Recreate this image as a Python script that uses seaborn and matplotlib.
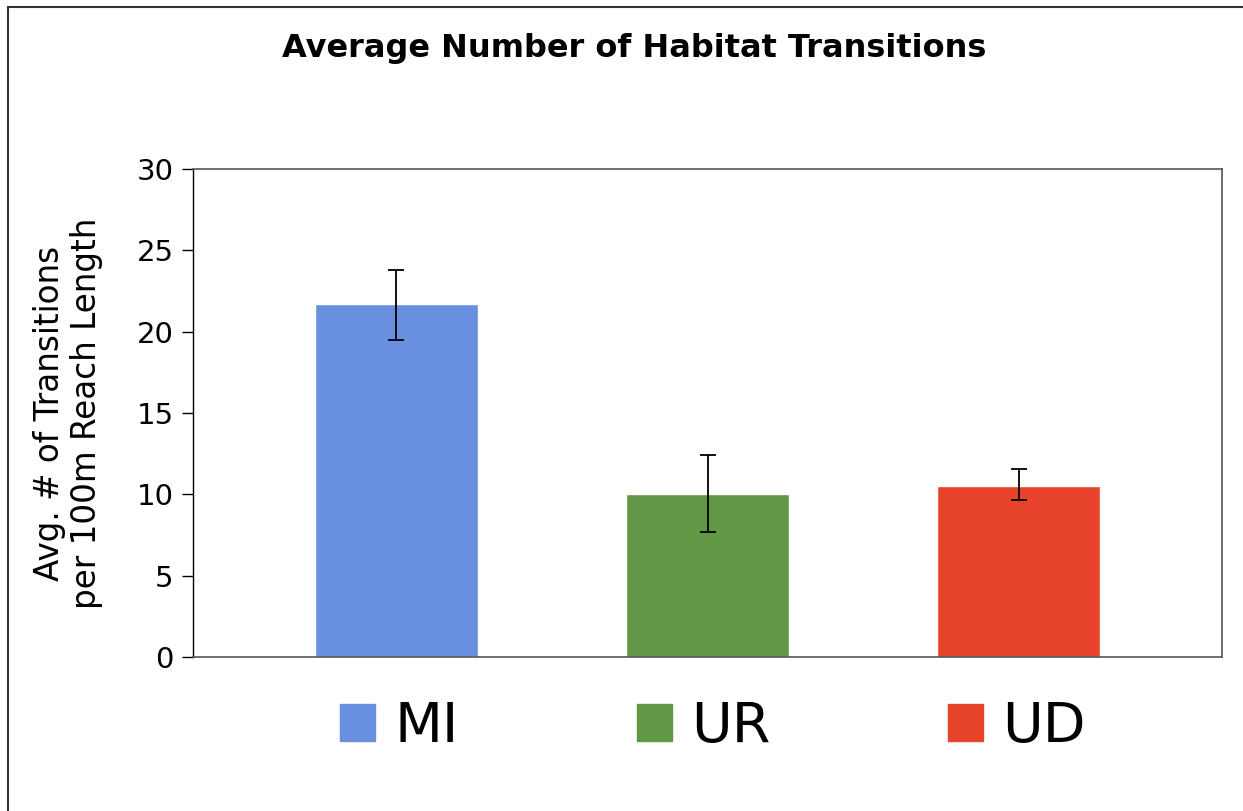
import numpy as np
import pandas as pd
import matplotlib
matplotlib.use("Agg")
import matplotlib.pyplot as plt
import seaborn as sns
from matplotlib.patches import Rectangle

# data
groups = ["MI", "UR", "UD"]
means = [21.7, 10.0, 10.5]
err_low = [19.5, 7.7, 9.65]
err_high = [23.8, 12.4, 11.55]
colors = ["#6990e0", "#629745", "#e8432b"]

df = pd.DataFrame({"group": groups, "mean": means})

sns.set_style("white")
plt.rcParams["font.family"] = ["DejaVu Sans"]
plt.rcParams.update({"text.color": "black", "axes.labelcolor": "black",
                     "xtick.color": "black", "ytick.color": "black"})

fig = plt.figure(figsize=(12.43, 8.11), dpi=100)
ax = fig.add_axes([193 / 1243, 1 - 657 / 811, (1222 - 193) / 1243, (657 - 169) / 811])

sns.barplot(data=df, x="group", y="mean", hue="group", palette=colors,
            width=0.524, ax=ax, legend=False, saturation=1)

means_a = np.array(means)
yerr = [means_a - np.array(err_low), np.array(err_high) - means_a]
ax.errorbar(np.arange(len(groups)), means_a, yerr=yerr, fmt="none",
            ecolor="black", elinewidth=1.3, capsize=6, capthick=1.3)

ax.set_xlim(-0.654, 2.654)
ax.set_ylim(0, 30)
ax.set_yticks([0, 5, 10, 15, 20, 25, 30])
ax.tick_params(axis="y", labelsize=21, length=8, width=1, direction="out",
               left=True, pad=6)
ax.tick_params(axis="x", bottom=False, labelbottom=False)
ax.set_xlabel("")
ax.set_ylabel("Avg. # of Transitions\nper 100m Reach Length", fontsize=23.5,
              labelpad=24, linespacing=1.15)

for side in ["top", "right", "bottom"]:
    ax.spines[side].set_color("#555555")
    ax.spines[side].set_linewidth(1.2)
ax.spines["left"].set_color("black")
ax.spines["left"].set_linewidth(1.0)

fig.text(634 / 1243, 1 - 48 / 811, "Average Number of Habitat Transitions",
         ha="center", va="center", fontsize=23, fontweight="bold")

# legend below the axes
handles = [Rectangle((0, 0), 1, 1, color=c) for c in colors]
fig.legend(handles, groups, loc="center", bbox_to_anchor=(713 / 1243, 1 - 727 / 811),
           ncol=3, frameon=False, fontsize=40, handlelength=0.63, handleheight=0.63,
           handletextpad=0.35, columnspacing=3.2)

# outer chart frame
fig.patches.append(Rectangle((8 / 1243, -0.01), 1.02, 1 - 7 / 811 + 0.01,
                             transform=fig.transFigure, fill=False,
                             edgecolor="#333333", linewidth=1.5))

fig.savefig("out.png", dpi=100)
